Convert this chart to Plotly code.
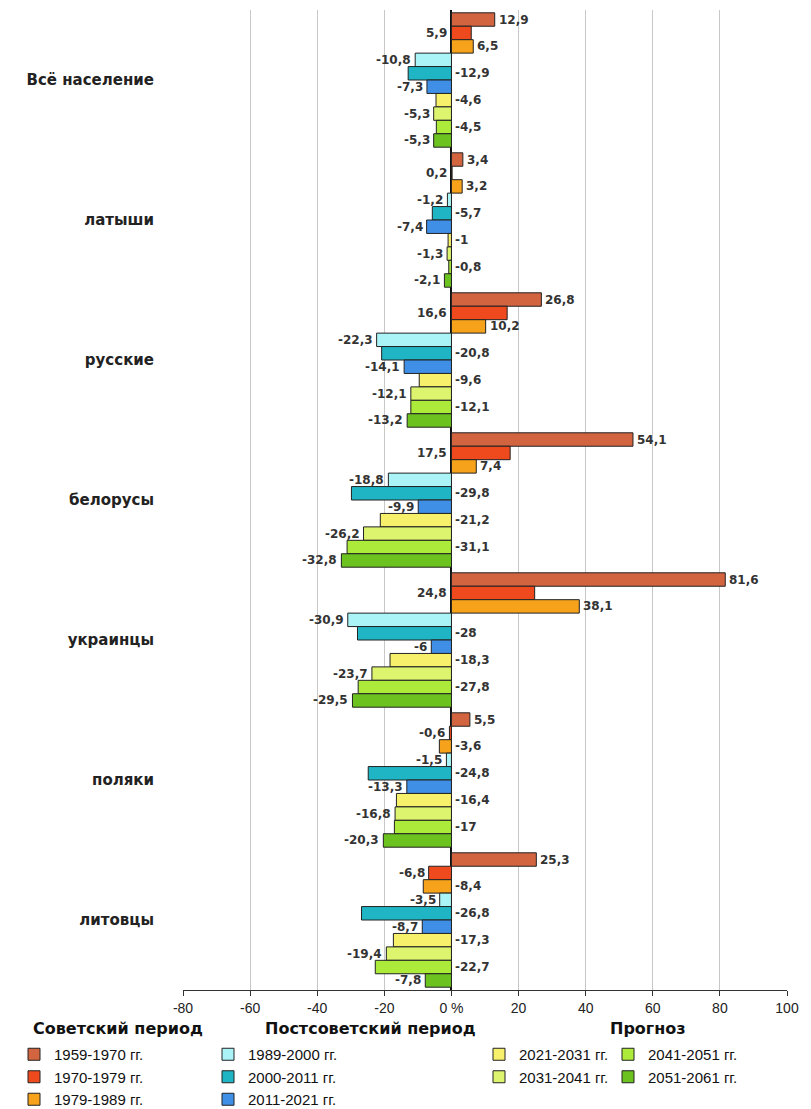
import plotly.graph_objects as go

categories = ["Всё население", "латыши", "русские", "белорусы", "украинцы", "поляки", "литовцы"]

periods = ["1959-1970 гг.", "1970-1979 гг.", "1979-1989 гг.",
           "1989-2000 гг.", "2000-2011 гг.", "2011-2021 гг.",
           "2021-2031 гг.", "2031-2041 гг.", "2041-2051 гг.", "2051-2061 гг."]

s1959_1970 = [12.9, 3.4, 26.8, 54.1, 81.6, 5.5, 25.3]
s1970_1979 = [5.9, 0.2, 16.6, 17.5, 24.8, -0.6, -6.8]
s1979_1989 = [6.5, 3.2, 10.2, 7.4, 38.1, -3.6, -8.4]
s1989_2000 = [-10.8, -1.2, -22.3, -18.8, -30.9, -1.5, -3.5]
s2000_2011 = [-12.9, -5.7, -20.8, -29.8, -28, -24.8, -26.8]
s2011_2021 = [-7.3, -7.4, -14.1, -9.9, -6, -13.3, -8.7]
s2021_2031 = [-4.6, -1, -9.6, -21.2, -18.3, -16.4, -17.3]
s2031_2041 = [-5.3, -1.3, -12.1, -26.2, -23.7, -16.8, -19.4]
s2041_2051 = [-4.5, -0.8, -12.1, -31.1, -27.8, -17, -22.7]
s2051_2061 = [-5.3, -2.1, -13.2, -32.8, -29.5, -20.3, -7.8]

series = [s1959_1970, s1970_1979, s1979_1989, s1989_2000, s2000_2011,
          s2011_2021, s2021_2031, s2031_2041, s2041_2051, s2051_2061]

colors = ["#D2643F", "#EE4A1E", "#F7A21B", "#AAF4F7", "#1FB5C4",
          "#3F8FE6", "#F7F06A", "#DDF46F", "#ADEB3A", "#6CC21F"]
legend_ids = ["legend", "legend", "legend", "legend2", "legend2", "legend2",
              "legend3", "legend3", "legend4", "legend4"]

tick_vals = [-80, -60, -40, -20, 0, 20, 40, 60, 80, 100]
tick_text = ["-80", "-60", "-40", "-20", "0 %", "20", "40", "60", "80", "100"]

BARGAP = 0.04
n = len(series)

fig = go.Figure()
for i, (vals, name) in enumerate(zip(series, periods)):
    fig.add_trace(go.Bar(
        y=list(range(len(categories))), x=vals, orientation="h", name=name,
        marker=dict(color=colors[i], line=dict(color="#222222", width=1)),
        legend=legend_ids[i], legendgroup=name,
    ))

annotations = []
slot = (1 - BARGAP) / n
for i, vals in enumerate(series):
    for k, v in enumerate(vals):
        yy = k - (1 - BARGAP) / 2 + (i + 0.5) * slot
        txt = ("%g" % v).replace(".", ",")
        if i % 2 == 0:
            xx = v if v > 0 else 0
            anchor = "left"
            xs = 2
        else:
            xx = v if v < 0 else 0
            anchor = "right"
            xs = -2
        annotations.append(dict(x=xx, y=yy, xref="x", yref="y", text="<b>" + txt + "</b>",
                                showarrow=False, xanchor=anchor, yanchor="middle", xshift=xs,
                                font=dict(family="DejaVu Sans", size=12, color="#333333")))

# page coordinates (page = figure + 8px body margin): plot x 183..787, y 10..990
def px_x(p):
    return (p - 183) / 604

def px_y(p):
    return (990 - p) / 980

hdr_font = dict(family="DejaVu Sans", size=16, color="#111111")
for text, px in [("Советский период", 118), ("Постсоветский период", 370), ("Прогноз", 648)]:
    annotations.append(dict(x=px_x(px), y=px_y(1028), xref="paper", yref="paper",
                            text="<b>" + text + "</b>", showarrow=False, xanchor="center",
                            yanchor="middle", font=hdr_font))

leg_common = dict(font=dict(family="Liberation Sans", size=15, color="#111111"),
                  itemwidth=30, yanchor="top", xanchor="left", bgcolor="rgba(0,0,0,0)",
                  traceorder="grouped", tracegroupgap=0, orientation="v")
y_leg = px_y(1038)

fig.update_layout(
    width=803, height=1101,
    margin=dict(l=175, r=24, t=2, b=119, autoexpand=False),
    plot_bgcolor="white", paper_bgcolor="white",
    barmode="group", bargap=BARGAP, bargroupgap=0,
    showlegend=True,
    legend=dict(x=px_x(14), y=y_leg, **leg_common),
    legend2=dict(x=px_x(208), y=y_leg, **leg_common),
    legend3=dict(x=px_x(479), y=y_leg, **leg_common),
    legend4=dict(x=px_x(608), y=y_leg, **leg_common),
    xaxis=dict(range=[-80, 100], tickvals=tick_vals, ticktext=tick_text,
               showgrid=True, gridcolor="#C8C8C8", gridwidth=1,
               zeroline=True, zerolinecolor="#111111", zerolinewidth=1.5,
               showline=True, linecolor="#333333", linewidth=1,
               ticks="outside", ticklen=5, tickcolor="#333333",
               tickfont=dict(family="Liberation Sans", size=14, color="#222222")),
    yaxis=dict(tickvals=list(range(len(categories))), ticktext=["<b>" + c + "</b>" for c in categories],
               autorange="reversed", showgrid=False, zeroline=False, showline=False,
               ticks="", ticklabelstandoff=28,
               tickfont=dict(family="DejaVu Sans", size=15, color="#222222")),
    annotations=annotations,
)

fig.write_html("out.html")
